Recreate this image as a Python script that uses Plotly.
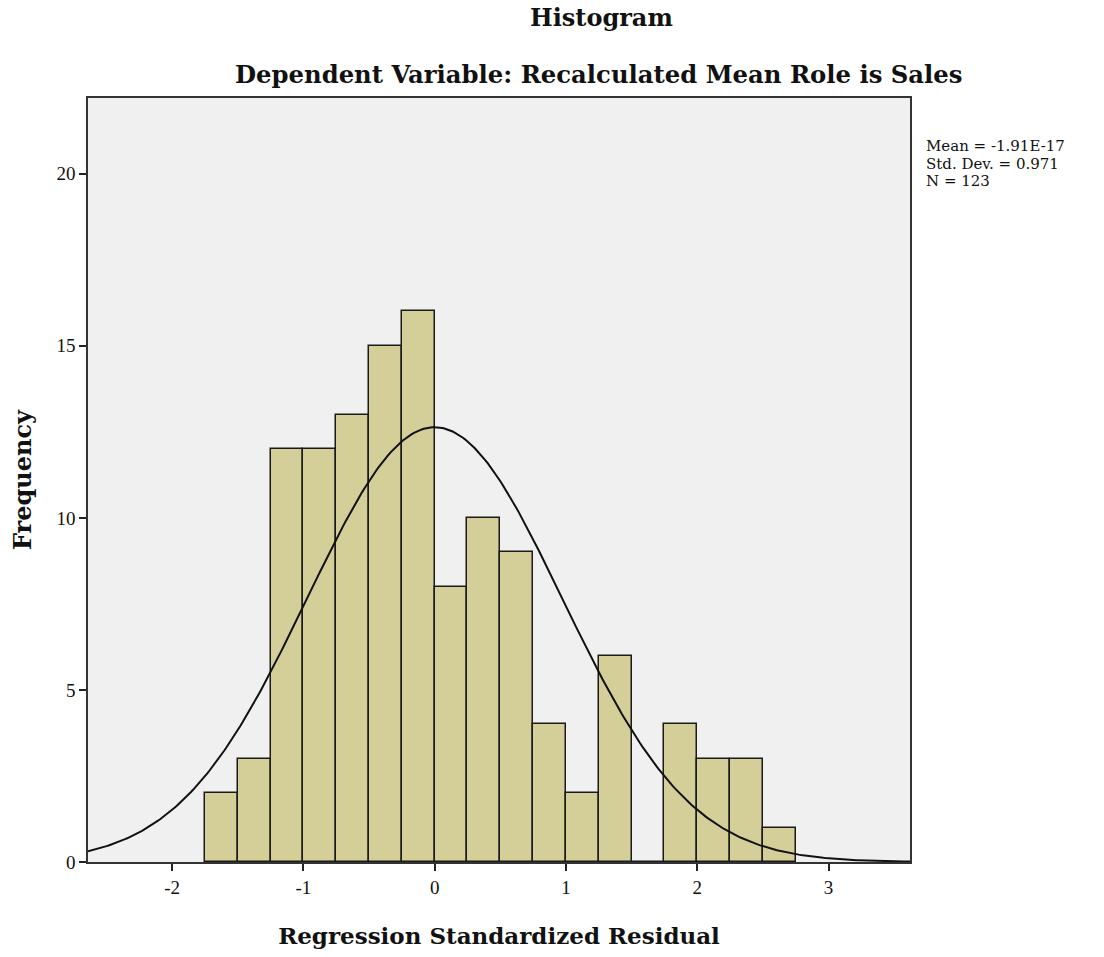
import numpy as np
import plotly.graph_objects as go

bin_left = [-1.75, -1.5, -1.25, -1.0, -0.75, -0.5, -0.25, 0.0, 0.25, 0.5, 0.75,
            1.0, 1.25, 1.5, 1.75, 2.0, 2.25, 2.5]
counts = [2, 3, 12, 12, 13, 15, 16, 8, 10, 9, 4, 2, 6, 0, 4, 3, 3, 1]
bin_width = 0.25
mean_val = -1.91e-17
std_val = 0.971
n_val = 123

x_ticks = [-2, -1, 0, 1, 2, 3]
y_ticks = [0, 5, 10, 15, 20]

stat_lines = ["Mean = -1.91E-17", f"Std. Dev. = {std_val}", f"N = {n_val}"]

centers = [b + bin_width / 2 for b in bin_left]

xs = np.linspace(-2.64, 3.62, 400)
ys = n_val * bin_width / (std_val * np.sqrt(2 * np.pi)) * np.exp(-0.5 * ((xs - mean_val) / std_val) ** 2)

tick_fam = "Liberation Serif, Times New Roman, serif"
title_fam = "DejaVu Serif, serif"

L, R, T, B = 88, 194, 98, 95
W, H = 1104, 957
pw, ph = W - L - R, H - T - B

def px_x(x):
    return (x - L) / pw

def px_y(y):
    return (H - B - y) / ph

fig = go.Figure()
fig.add_trace(go.Bar(
    x=centers, y=counts, width=bin_width,
    marker=dict(color="#d4cf99", line=dict(color="#1a1a1a", width=1.5)),
    showlegend=False, hoverinfo="x+y",
))
fig.add_trace(go.Scatter(
    x=xs, y=ys, mode="lines", line=dict(color="#111111", width=2),
    showlegend=False, hoverinfo="skip",
))

annotations = [
    dict(text="<b>Histogram</b>", x=px_x(601), y=px_y(18), xref="paper", yref="paper",
         yanchor="middle", showarrow=False, font=dict(size=24, family=title_fam)),
    dict(text="<b>Dependent Variable: Recalculated Mean Role is Sales</b>", xref="paper", yref="paper",
         x=px_x(598), y=px_y(75), yanchor="middle", showarrow=False, font=dict(size=24.3, family=title_fam)),
]
for i, s in enumerate(stat_lines):
    annotations.append(dict(text=s, xref="paper", yref="paper", x=px_x(924), y=px_y(146 + 17.5 * i),
                            xanchor="left", yanchor="middle", showarrow=False,
                            font=dict(size=15, family=title_fam)))

fig.update_layout(
    width=W, height=H,
    margin=dict(l=L, r=R, t=T, b=B),
    paper_bgcolor="white", plot_bgcolor="#f0f0f0",
    font=dict(family=tick_fam, size=19, color="#111111"),
    bargap=0,
    xaxis=dict(
        range=[-2.64, 3.62], tickvals=x_ticks, ticktext=[str(t) for t in x_ticks],
        ticks="outside", ticklen=7, tickwidth=1.5, tickcolor="#222",
        showgrid=False, zeroline=False, showline=True, linecolor="#333", linewidth=1.5, mirror=True,
        title=dict(text="<b>Regression Standardized Residual</b>", font=dict(size=23, family=title_fam), standoff=31),
        tickfont=dict(size=19, family=tick_fam),
    ),
    yaxis=dict(
        range=[0, 22.2], tickvals=y_ticks, ticktext=[str(t) for t in y_ticks],
        ticks="outside", ticklen=7, tickwidth=1.5, tickcolor="#222",
        showgrid=False, zeroline=False, showline=True, linecolor="#333", linewidth=1.5, mirror=True,
        title=dict(text="<b>Frequency</b>", font=dict(size=24, family=title_fam), standoff=18),
        tickfont=dict(size=19, family=tick_fam),
    ),
    annotations=annotations,
)

fig.write_html("out.html")
